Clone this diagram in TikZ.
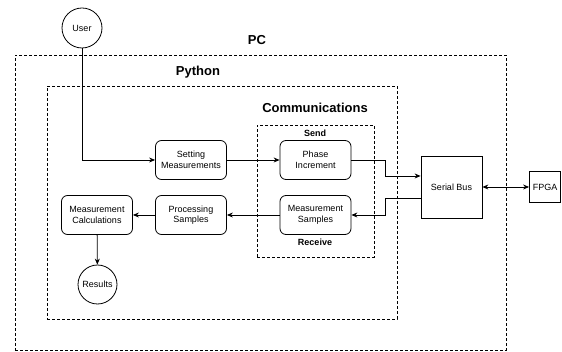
\documentclass[tikz,border=0pt]{standalone}
\usepackage{fontspec}
\setmainfont{Liberation Sans}
\usetikzlibrary{arrows.meta}
\begin{document}
\begin{tikzpicture}[x=1pt,y=-1pt,
  box/.style={draw, rounded corners=6pt, minimum width=71pt, minimum height=39pt, align=center, inner sep=1pt, line width=0.8pt, font=\fontsize{9}{10.5}\selectfont},
  circ/.style={draw, circle, minimum size=40pt, inner sep=0pt, line width=0.8pt, font=\fontsize{9}{10.5}\selectfont},
  sqbox/.style={draw, inner sep=1pt, line width=0.8pt, font=\fontsize{9}{10.5}\selectfont},
  grp/.style={draw, dash pattern=on 3pt off 2pt, line width=0.7pt, inner sep=0pt},
  biglbl/.style={font=\bfseries\fontsize{13}{15}\selectfont},
  smalllbl/.style={font=\bfseries\fontsize{9}{10.5}\selectfont},
  arr/.style={line width=0.8pt, -{Stealth[length=6pt,width=5pt]}}]
\useasboundingbox (0,0) rectangle (562,352);
% groups
\node[grp, minimum width=491pt, minimum height=295pt] (pc) at (260.5,202.5) {};
\node[grp, minimum width=350pt, minimum height=233pt] (py) at (222,202.5) {};
\node[grp, minimum width=117pt, minimum height=132pt] (comm) at (315.5,191) {};
\node[biglbl] (pclbl) at (257,40) {PC};
\node[biglbl] (pylbl) at (198,72) {Python};
\node[biglbl] (commlbl) at (315,108) {Communications};
\node[smalllbl] (send) at (315,133) {Send};
\node[smalllbl] (recv) at (315,242) {Receive};
% nodes
\node[circ] (user) at (82,28) {User};
\node[box] (set) at (191,160) {Setting\\Measurements};
\node[box] (phase) at (315.5,160) {Phase\\Increment};
\node[box] (msamp) at (315.5,215) {Measurement\\Samples};
\node[box] (proc) at (191,215) {Processing\\Samples};
\node[box] (mcalc) at (97,215) {Measurement\\Calculations};
\node[circ, minimum size=39pt] (res) at (97.5,284.5) {Results};
\node[sqbox, minimum width=61pt, minimum height=62pt] (bus) at (451.5,187) {Serial Bus};
\node[sqbox, minimum width=31pt, minimum height=31pt] (fpga) at (545,187) {FPGA};
\coordinate (j1) at (385,0);
% connectors
\draw[arr] (user.south) |- (set.west);
\draw[arr] (set) -- (phase);
\draw[arr] (phase.east) -- (phase.east -| j1) |- ([yshift=11pt]bus.west);
\draw[arr] ([yshift=-11pt]bus.west) -- ([yshift=-11pt]bus.west -| j1) |- (msamp.east);
\draw[arr] (msamp) -- (proc);
\draw[arr] (proc) -- (mcalc);
\draw[arr] (mcalc) -- (res);
\draw[line width=0.8pt, {Stealth[length=6pt,width=5pt]}-{Stealth[length=6pt,width=5pt]}] (bus) -- (fpga);
\end{tikzpicture}
\end{document}
